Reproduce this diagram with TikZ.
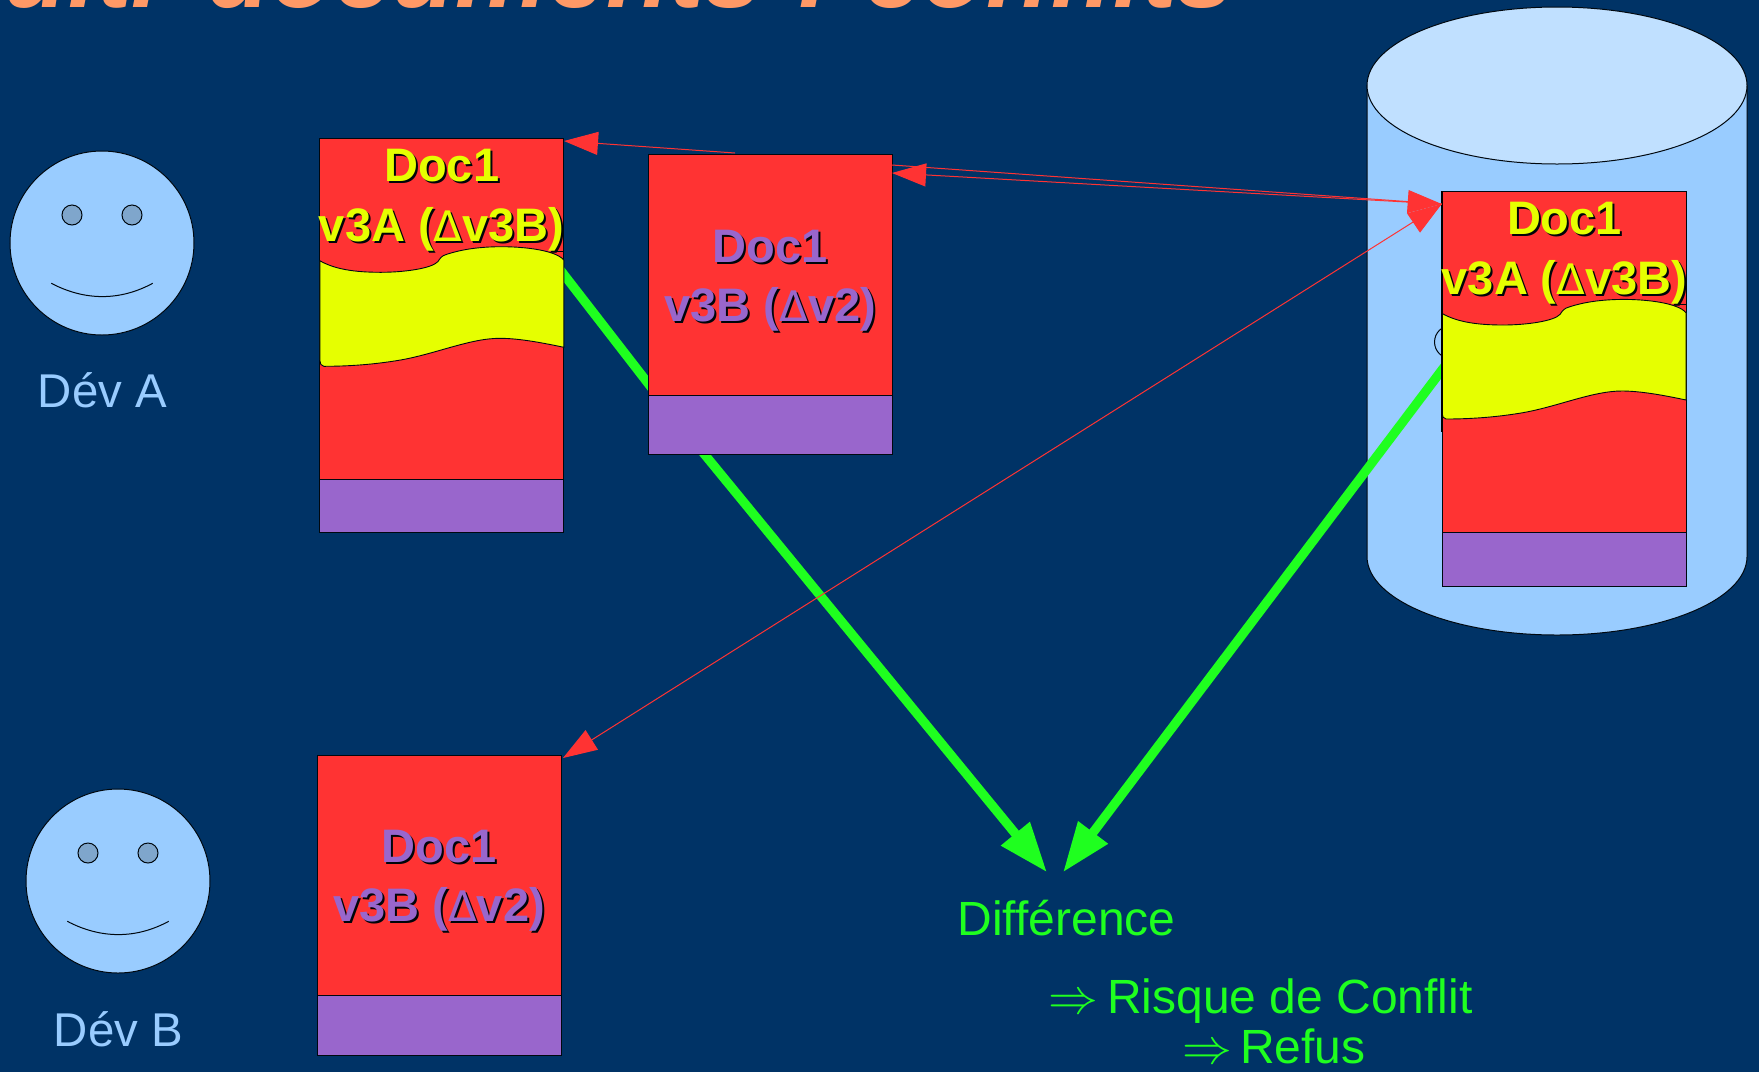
\documentclass[tikz,border=0pt]{standalone}
\usepackage{fontspec}
\setmainfont{Liberation Sans}
\newfontfamily\symf{DejaVu Sans}
\usetikzlibrary{arrows.meta,calc}
\definecolor{bgc}{HTML}{003366}
\definecolor{redc}{HTML}{FF3333}
\definecolor{purc}{HTML}{9966CC}
\definecolor{yelc}{HTML}{E6FF00}
\definecolor{grnc}{HTML}{1FFF1F}
\definecolor{orgc}{HTML}{FF9966}
\definecolor{skyc}{HTML}{99CCFF}
\definecolor{topc}{HTML}{C0E0FF}
\definecolor{eyec}{HTML}{7FA6CC}
\tikzset{
  x=0.5pt,y=-0.5pt,
  every node/.style={inner sep=0pt,outer sep=0pt},
  outl/.style={draw=black!85!bgc,line width=0.5pt},
  redpart/.style={rectangle,outl,fill=redc,minimum width=122pt,anchor=north west},
  purpart/.style={rectangle,outl,fill=purc,minimum width=122pt,anchor=north west},
  wave/.style={outl,fill=yelc,line width=0.45pt},
  sky/.style={text=skyc,font=\fontsize{23.7}{28}\selectfont,anchor=base},
  grn/.style={text=grnc,font=\fontsize{24}{28}\selectfont,anchor=base},
  greenline/.style={draw=grnc,line width=4.6pt,line join=miter,-{Triangle[length=25pt,width=17.5pt,fill=grnc]}},
  redline/.style={draw=redc,line width=0.5pt,-{Triangle[length=17pt,width=11.5pt,fill=redc]}},
  facec/.style={circle,outl,fill=skyc,minimum size=92pt},
  eye/.style={circle,outl,fill=eyec,minimum size=10pt},
}
\newcommand{\shtext}[4]{% name, position, colour, text
  \node[anchor=base,text=black!90!bgc,font=\fontsize{23.5}{28}\bfseries\selectfont] at ($#2+(2,2)$) {#4};
  \node[anchor=base,text=#3,font=\fontsize{23.5}{28}\bfseries\selectfont] (#1) at #2 {#4};
}
\newcommand{\dlt}{{\symf\mdseries\fontsize{21}{24}\selectfont Δ}}
\newcommand{\docwave}[2]{% x y
  \begin{scope}[shift={(#1,#2)}]
  \path[wave] (0,122.4)
    .. controls (15,131) and (35,134) .. (61,134)
    .. controls (85,134) and (112,130) .. (118,123.4)
    .. controls (121,119) and (122,117.5) .. (127,116)
    .. controls (145,110) and (165,108.4) .. (182,108.4)
    .. controls (205,108.4) and (236,112) .. (244,121.7)
    -- (244,209)
    .. controls (225,205) and (200,200) .. (180,200)
    .. controls (150,200) and (115,216) .. (79,222)
    .. controls (55,226) and (30,228) .. (4,228)
    .. controls (1.5,228) and (0,225) .. (0,222)
    -- cycle;
  \draw[outl] (236,113.4) -- (244,113.4);
  \draw[outl] (0,222) -- (0,238);
  \end{scope}
}
\begin{document}
\begin{tikzpicture}
\useasboundingbox (0,0) rectangle (1759,1072);
\fill[bgc] (0,0) rectangle (1759,1072);
\begin{scope}
\clip (0,0) rectangle (1759,1072);
\node[anchor=base west,text=orgc,font=\fontsize{52}{56}\bfseries\itshape\selectfont] (title) at (-82,7.5) {Multi\hspace{23.5pt}documents\hspace{17pt}:\hspace{17pt}conflits};
\end{scope}
% cylinder
\path[outl,fill=skyc] (1367,85.5) -- (1367,556.5) arc[start angle=180,end angle=360,x radius=190,y radius=-78.5] -- (1747,85.5) -- cycle;
\path[outl,fill=topc] (1557,85.5) ellipse[x radius=190,y radius=78.5];
% faces
\node[facec] (faceA) at (102,243) {};
\node[eye] (eyeA1) at (72,215) {};
\node[eye] (eyeA2) at (132,215) {};
\coordinate (smA1) at (51.3,283.3); \coordinate (smA2) at (152.7,283.3);
\draw[outl] (smA1) .. controls (85,301) and (120,301) .. (smA2);
\node[sky] (labA) at (102.5,407.5) {Dév A};
\node[facec] (faceB) at (118,881) {};
\node[eye] (eyeB1) at (88,853) {};
\node[eye] (eyeB2) at (148,853) {};
\coordinate (smB1) at (67.3,921.3); \coordinate (smB2) at (168.7,921.3);
\draw[outl] (smB1) .. controls (101,939) and (136,939) .. (smB2);
\node[sky] (labB) at (118.5,1046) {Dév B};
% hidden face on the server
\path[outl] (1451,342) circle[radius=16.5];
% green connectors (under the documents)
\coordinate (gA) at (541,245);
\coordinate (gB) at (678,422);
\coordinate (gT1) at (1047,872.3);
\coordinate (gS) at (1460,346);
\coordinate (gT2) at (1063,872.3);
\draw[greenline] (gA) -- (gB) -- (gT1);
\draw[greenline] (gS) -- (gT2);
% documents
\node[redpart,minimum height=170.35pt] (dA) at (319.8,138.3) {};
\node[purpart,minimum height=26.5pt] (dAp) at (319.8,479) {};
\docwave{319.8}{138.3}
\shtext{dAt1}{(441.7,181.5)}{yelc}{Doc1}
\shtext{dAt2}{(441.7,241.5)}{yelc}{v3A (\dlt v3B)}
\node[redpart,minimum height=120.5pt] (d2) at (648.8,154) {};
\node[purpart,minimum height=29.5pt] (d2p) at (648.8,395) {};
\shtext{d2t1}{(770.4,262)}{purc}{Doc1}
\shtext{d2t2}{(770.4,321)}{purc}{v3B (\dlt v2)}
\node[redpart,minimum height=170.5pt] (dS) at (1442,191) {};
\node[purpart,minimum height=27pt] (dSp) at (1442,532) {};
\docwave{1442}{191}
\draw[black,line width=1pt] (dS.north west) -- ++(0,241);
\shtext{dSt1}{(1564.5,234.5)}{yelc}{Doc1}
\shtext{dSt2}{(1564.5,294.5)}{yelc}{v3A (\dlt v3B)}
\node[redpart,minimum height=120.3pt] (dB) at (317,755) {};
\node[purpart,minimum height=29.7pt] (dBp) at (317,995.6) {};
\shtext{dBt1}{(439,862)}{purc}{Doc1}
\shtext{dBt2}{(439,921)}{purc}{v3B (\dlt v2)}
% red connectors
\coordinate (rS1) at (1441.7,204);
\coordinate (rA) at (564,141);
\coordinate (r2) at (892,173);
\coordinate (rB) at (563,758);
\coordinate (rM) at (735,153);
\coordinate (rM2) at (892,165);
\coordinate (rL) at (1415,222);
\draw[redline] (rM) -- (rA);
\draw[redline] (rS1) -- (r2);
\draw[redline] (rM2) -- (rS1);
\draw[redline] (rS1) -- (rB);
\draw[redline] (rL) -- (rS1);
% texts
\node[grn] (diff) at (1066.5,935.5) {Différence};
\node[grn,anchor=base west] (risque) at (1048,1013) {\makebox[29.5pt][l]{\fontsize{26}{28}\selectfont$\Rightarrow$}Risque de Conflit};
\node[grn,anchor=base west] (refus) at (1182,1063) {\makebox[29pt][l]{\fontsize{26}{28}\selectfont$\Rightarrow$}Refus};
\end{tikzpicture}
\end{document}
